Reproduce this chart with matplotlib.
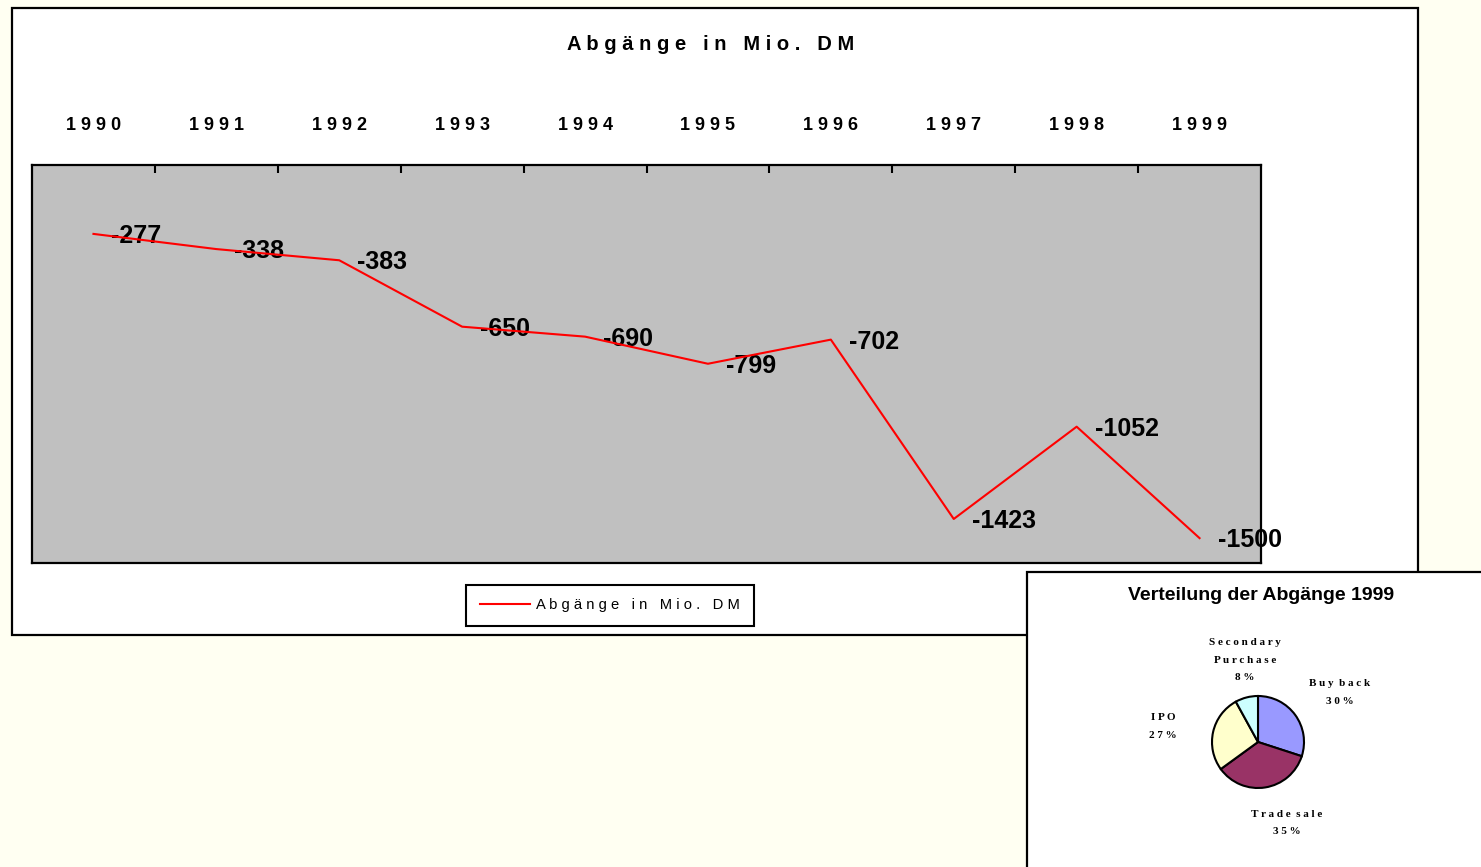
#!/usr/bin/env python3

import matplotlib
matplotlib.use("Agg")
import matplotlib.pyplot as plt
from matplotlib.patches import Rectangle


# ==========================================================
# DATA
# ==========================================================
YEARS = ["1990", "1991", "1992", "1993", "1994",
         "1995", "1996", "1997", "1998", "1999"]
ABGAENGE = [-277, -338, -383, -650, -690, -799, -702, -1423, -1052, -1500]

PIE_LABELS = ["Buy back", "Trade sale", "IPO", "Secondary\nPurchase"]
PIE_SHARES = [30, 35, 27, 8]

TITLE_MAIN = "Abgänge in Mio. DM"
TITLE_PIE = "Verteilung der Abgänge 1999"


# ==========================================================
# STYLE
# ==========================================================
W, H = 1481, 867
BG = "#FFFFF2"
PLOT_BG = "#C0C0C0"
COL_LINE = "#FF0000"
PIE_COLORS = ["#9999FF", "#993366", "#FFFFCC", "#CCFFFF"]

plt.rcParams.update({
    "font.family": ["Liberation Sans", "DejaVu Sans"],
})


def spaced(s, gap="   "):
    # letter-spaced text like the old Excel chart
    return gap.join(" ".join(w) for w in s.split(" "))


def fx(px):
    return px / W


def fy(py):
    return 1 - py / H


fig = plt.figure(figsize=(W / 100, H / 100), dpi=100, facecolor=BG)

# main chart box
fig.add_artist(Rectangle((fx(12), fy(635)), fx(1418) - fx(12), fy(8) - fy(635),
                         transform=fig.transFigure, fc="white", ec="black",
                         lw=1.6, zorder=-2))

fig.text(fx(711), fy(44.5), spaced(TITLE_MAIN), ha="center", va="center",
         fontsize=14.5, fontweight="bold")

# ==========================================================
# LINE CHART
# ==========================================================
ax = fig.add_axes([fx(32), fy(563), fx(1261) - fx(32), fy(165) - fy(563)])
ax.set_facecolor(PLOT_BG)

x = list(range(len(YEARS)))
ax.plot(x, ABGAENGE, color=COL_LINE, lw=1.5, zorder=4,
        label=spaced(TITLE_MAIN))

for xi, v in zip(x, ABGAENGE):
    ax.annotate(f"{v}", (xi, v), xytext=(18, -2), textcoords="offset pixels",
                ha="left", va="center", fontsize=18, fontweight="bold",
                zorder=3, annotation_clip=False)

ax.set_xlim(-0.5, len(YEARS) - 0.5)
ax.set_ylim(-1600, 0)

ax.xaxis.tick_top()
ax.set_xticks(x)
ax.set_xticklabels([spaced(y) for y in YEARS], fontsize=13, fontweight="bold")
ax.set_xticks([i + 0.5 for i in x[:-1]], minor=True)
ax.tick_params(axis="x", which="major", length=0, pad=22)
ax.tick_params(axis="x", which="minor", direction="in", length=6, width=1.5)
ax.set_yticks([])
for sp in ax.spines.values():
    sp.set_linewidth(1.6)

leg = ax.legend(loc="center", bbox_to_anchor=(fx(610), fy(605.5)),
                bbox_transform=fig.transFigure, fontsize=10.6,
                frameon=True, fancybox=False, edgecolor="black",
                framealpha=1, handlelength=3.4, borderpad=0.95,
                handletextpad=0.4)
leg.get_frame().set_linewidth(1.5)

# ==========================================================
# PIE CHART BOX
# ==========================================================
fig.add_artist(Rectangle((fx(1027), fy(880)), fx(1500) - fx(1027), fy(572) - fy(880),
                         transform=fig.transFigure, fc="white", ec="black",
                         lw=1.6, zorder=1))

fig.text(fx(1261), fy(596), TITLE_PIE, ha="center", va="center",
         fontsize=14, fontweight="bold", zorder=3)

R = 46
pax = fig.add_axes([fx(1258 - 3 * R), fy(742 + 3 * R), fx(6 * R), 6 * R / H],
                   zorder=2)
pax.set_facecolor("none")
pax.pie(PIE_SHARES, colors=PIE_COLORS, startangle=90, counterclock=False,
        radius=1, wedgeprops=dict(edgecolor="black", linewidth=1.5))
pax.set_xlim(-3, 3)
pax.set_ylim(-3, 3)
pax.set_aspect("equal")
pax.axis("off")

# label positions in units of pie radius
label_pos = [(1.78, 1.07), (0.63, -1.76), (-2.07, 0.33), (-0.28, 1.78)]
for lab, share, (lx, ly) in zip(PIE_LABELS, PIE_SHARES, label_pos):
    txt = "\n".join(spaced(line, "  ") for line in lab.split("\n"))
    txt += "\n" + spaced(f"{share}%")
    pax.text(lx, ly, txt, ha="center", va="center", fontsize=8,
             fontweight="bold", family="Liberation Serif", linespacing=2.25)

fig.savefig("out.png", dpi=100, facecolor=BG)
